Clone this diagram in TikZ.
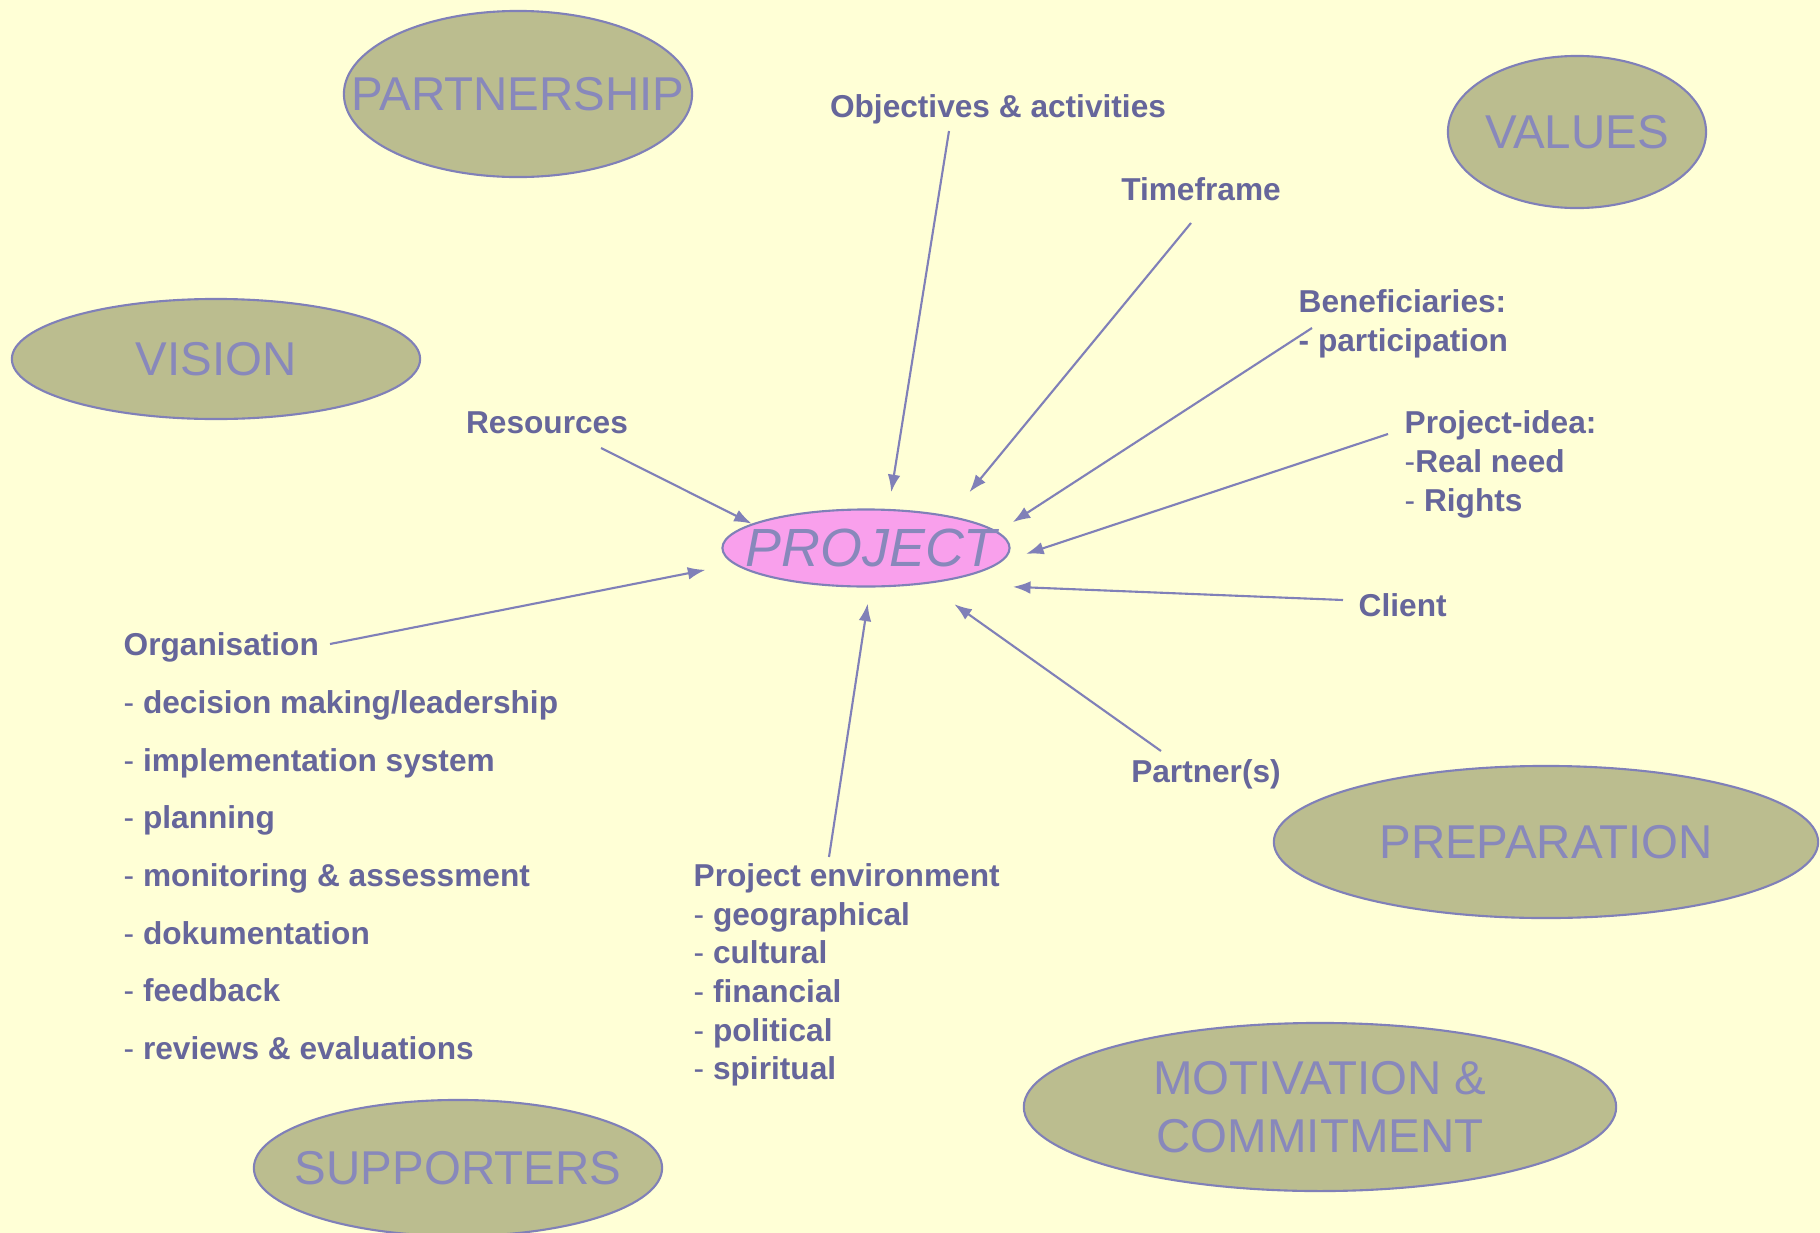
\documentclass[tikz,border=0pt]{standalone}
\usepackage{fontspec}
\setmainfont{Liberation Sans}
\usetikzlibrary{arrows.meta,shapes.geometric,calc}

\definecolor{pagebg}{RGB}{255,255,214}
\definecolor{bubblefill}{RGB}{187,189,143}
\definecolor{edgeblue}{RGB}{128,128,184}
\definecolor{textblue}{RGB}{102,102,155}
\definecolor{softblue}{RGB}{136,136,187}
\definecolor{projpink}{RGB}{249,160,236}

\newcommand\itemdash{{\mdseries -}}

\tikzset{
  bubble/.style={ellipse, draw=edgeblue, fill=bubblefill, line width=0.6pt, inner sep=0pt},
  bubbletext/.style={font=\fontsize{13.5}{16.5}\selectfont, text=softblue, align=center, inner sep=0pt},
  projtext/.style={font=\itshape\fontsize{15.3}{18}\selectfont, text=softblue, inner sep=0pt},
  lbl/.style={font=\bfseries\fontsize{9}{10.95}\selectfont, text=textblue, inner sep=0pt, align=left},
  arr/.style={-{Latex[length=5pt,width=3.6pt]}, line width=0.6pt, draw=edgeblue}
}

\begin{document}
\begin{tikzpicture}[x=0.01cm,y=-0.01cm]
	\fill[pagebg] (0,0) rectangle (1820,1233);
	\useasboundingbox (0,0) rectangle (1820,1233);
	% the big ellipses
	\node[bubble, minimum width=3.48cm, minimum height=1.66cm, label={[bubbletext]center:PARTNERSHIP}] (partnership) at (518,94) {};
	\node[bubble, minimum width=2.58cm, minimum height=1.52cm, label={[bubbletext]center:VALUES}] (values) at (1577,132) {};
	\node[bubble, minimum width=4.08cm, minimum height=1.20cm, label={[bubbletext]center:VISION}] (vision) at (216,359) {};
	\node[bubble, minimum width=5.44cm, minimum height=1.52cm, label={[bubbletext]center:PREPARATION}] (prep) at (1546,842) {};
	\node[bubble, minimum width=5.92cm, minimum height=1.68cm, label={[bubbletext]center:{MOTIVATION \&\\COMMITMENT}}] (motiv) at (1320,1107) {};
	\node[bubble, minimum width=4.08cm, minimum height=1.36cm, label={[bubbletext]center:SUPPORTERS}] (supp) at (458,1168) {};
	% centre
	\node[bubble, fill=projpink, minimum width=2.87cm, minimum height=0.77cm, label={[projtext, xshift=1.5pt]center:PROJECT}] (project) at (866,548) {};
	% labels (base = last line)
	\node[lbl, anchor=base] (obj) at (998,117) {Objectives \& activities};
	\node[lbl, anchor=base] (time) at (1201,200) {Timeframe};
	\node[lbl, anchor=base west] (ben) at (1298,351.5) {Beneficiaries:\\- participation};
	\node[lbl, anchor=base west] (idea) at (1404,511) {Project-idea:\\\itemdash Real need\\\itemdash{} Rights};
	\node[lbl, anchor=base] (res) at (547,433) {Resources};
	\node[lbl, anchor=base west] (client) at (1358,616) {Client};
	\node[lbl, anchor=base] (partner) at (1206,782) {Partner(s)};
	\node[lbl, anchor=base west] (env) at (693,1079.5) {Project environment\\\itemdash{} geographical\\\itemdash{} cultural\\\itemdash{} financial\\\itemdash{} political\\\itemdash{} spiritual};
	\node[lbl, font=\bfseries\fontsize{9}{16.4}\selectfont, anchor=base west] (org) at (123,1059.5) {Organisation\\\itemdash{} decision making/leadership\\\itemdash{} implementation system\\\itemdash{} planning\\\itemdash{} monitoring \& assessment\\\itemdash{} dokumentation\\\itemdash{} feedback\\\itemdash{} reviews \& evaluations};
	% arrows into the project
	\draw[arr, shorten >=4.8pt] ($(obj.base)+(-49,14)$) -- (project.60);
	\draw[arr, shorten >=8.7pt] ($(time.base)+(-10,23)$) -- (project.21);
	\draw[arr, shorten >=5pt] ($(ben.base west)+(14,-23.5)$) -- (project.7);
	\draw[arr, shorten >=7.5pt] ($(idea.base west)+(-16,-77)$) -- (project.354);
	\draw[arr] ($(res.base)+(54,15)$) -- (project.168);
	\draw[arr, shorten >=23.6pt] ($(client.base west)+(-15,-16)$) -- (project.331);
	\draw[arr, shorten >=9.9pt] ($(partner.base)+(-45,-31)$) -- (project.329);
	\draw[arr, shorten >=4.6pt] ($(env.base west)+(136,-222.5)$) -- (project.276);
	\draw[arr, shorten >=8.3pt] ($(org.base west)+(207,-415.5)$) -- (project.187);
\end{tikzpicture}
\end{document}
